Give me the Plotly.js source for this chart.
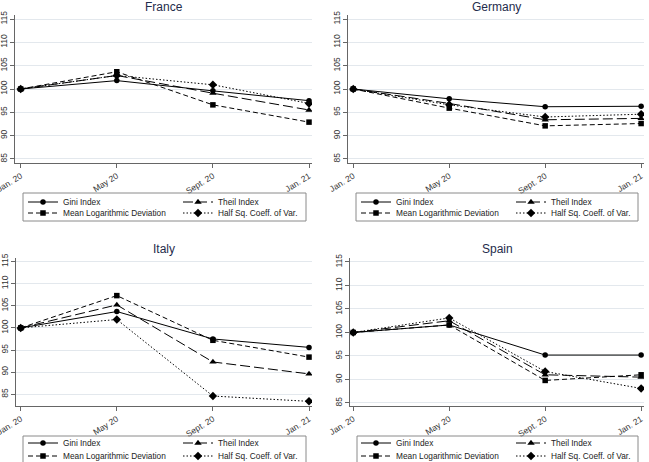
<!DOCTYPE html>
<html>
<head>
<meta charset="utf-8">
<script src="https://cdn.plot.ly/plotly-3.0.1.min.js"></script>
<style>html,body{margin:0;padding:0;background:#fff;}#chart{width:649px;height:462px;}</style>
</head>
<body>
<div id="chart"></div>
<script>
// ---- data ----
const months = ['Jan. 20', 'May 20', 'Sept. 20', 'Jan. 21'];
const countries = ['France', 'Germany', 'Italy', 'Spain'];
const seriesNames = ['Gini Index', 'Theil Index', 'Mean Logarithmic Deviation', 'Half Sq. Coeff. of Var.'];
const yTicks = [85, 90, 95, 100, 105, 110, 115];

const franceGini  = [100, 101.8, 99.6, 97.5];
const franceTheil = [100, 102.9, 99.1, 95.5];
const franceMLD   = [100, 103.7, 96.6, 92.9];
const franceHSCV  = [100, 102.9, 100.9, 96.9];

const germanyGini  = [100, 97.9, 96.2, 96.3];
const germanyTheil = [100, 96.9, 93.4, 93.7];
const germanyMLD   = [100, 95.9, 92.1, 92.6];
const germanyHSCV  = [100, 96.6, 94.0, 94.6];

const italyGini  = [100, 103.7, 97.5, 95.6];
const italyTheil = [100, 105.2, 92.3, 89.6];
const italyMLD   = [100, 107.3, 97.2, 93.4];
const italyHSCV  = [100, 101.9, 84.6, 83.4];

const spainGini  = [100, 101.6, 95.2, 95.2];
const spainTheil = [100, 102.5, 91.0, 90.5];
const spainMLD   = [100, 101.6, 89.8, 91.0];
const spainHSCV  = [100, 103.1, 91.7, 88.1];

const panelData = [
  [franceGini, franceTheil, franceMLD, franceHSCV],
  [germanyGini, germanyTheil, germanyMLD, germanyHSCV],
  [italyGini, italyTheil, italyMLD, italyHSCV],
  [spainGini, spainTheil, spainMLD, spainHSCV]
];

// ---- styling / layout (pixels) ----
const W = 649, H = 462;
const FONT = 'Liberation Sans, Arial, sans-serif';
const styles = [
  {dash: 'solid', symbol: 'circle', size: 5.5},
  {dash: '10px,4px', symbol: 'triangle-up', size: 6.5},
  {dash: '5px,3px', symbol: 'square', size: 5.5},
  {dash: '1.5px,2px', symbol: 'diamond', size: 6.5}
];
const panels = [
  {xd: [15, 312], yd: [15, 163], xr: [-0.059, 3.031], yr: [84.14, 115.86], legX: 23, rows: [202, 213], box: [23, 193, 306, 221]},
  {xd: [348, 644], yd: [15, 163], xr: [-0.055, 3.03], yr: [84.14, 115.86], legX: 356, rows: [202, 213], box: [356, 193, 638, 221]},
  {xd: [16, 312], yd: [258, 406], xr: [-0.049, 3.031], yr: [82.35, 115.8], legX: 23, rows: [443, 456], box: [23, 436, 306, 468]},
  {xd: [350, 644], yd: [258, 406], xr: [-0.034, 3.03], yr: [84.36, 115.85], legX: 356, rows: [443, 456], box: [357, 436, 638, 468]}
];
const titleY = [7, 7, 249, 249];

const px = v => v / W;
const py = v => 1 - v / H;

const traces = [];
const layout = {
  width: W, height: H,
  margin: {l: 0, r: 0, t: 0, b: 0, autoexpand: false},
  paper_bgcolor: '#ffffff', plot_bgcolor: '#ffffff',
  font: {family: FONT, size: 9, color: '#222'},
  annotations: [], shapes: []
};

panels.forEach((p, i) => {
  const n = i + 1;
  const xa = 'xaxis' + (n === 1 ? '' : n), ya = 'yaxis' + (n === 1 ? '' : n);
  const xref = 'x' + (n === 1 ? '' : n), yref = 'y' + (n === 1 ? '' : n);
  layout[xa] = {
    domain: [px(p.xd[0]), px(p.xd[1])], anchor: yref,
    type: 'category', range: p.xr, fixedrange: true,
    showgrid: false, zeroline: false,
    showline: true, linecolor: '#666', linewidth: 1,
    ticks: 'outside', ticklen: 4, tickcolor: '#666',
    tickangle: -32, tickfont: {size: 8.5, color: '#333', family: FONT}
  };
  layout[ya] = {
    domain: [py(p.yd[1]), py(p.yd[0])], anchor: xref,
    range: p.yr, tickvals: yTicks, fixedrange: true,
    showgrid: true, gridcolor: '#e3e8ed', gridwidth: 1, zeroline: false,
    showline: true, linecolor: '#666', linewidth: 1,
    ticks: 'outside', ticklen: 4, tickcolor: '#666',
    tickangle: -90, tickfont: {size: 8.5, color: '#333', family: FONT}
  };
  // title
  layout.annotations.push({
    text: countries[i], xref: 'paper', yref: 'paper',
    x: px((p.xd[0] + p.xd[1]) / 2), y: py(titleY[i]),
    xanchor: 'center', yanchor: 'middle', showarrow: false,
    font: {size: 12, color: '#1f2c4c', family: FONT}
  });
  // legend box
  layout.shapes.push({
    type: 'rect', xref: 'paper', yref: 'paper',
    x0: px(p.box[0]), x1: px(p.box[2]), y0: py(p.box[3]), y1: py(p.box[1]),
    line: {color: '#8a8a8a', width: 1}, fillcolor: 'rgba(0,0,0,0)'
  });
  // two legend rows
  p.rows.forEach((ry, r) => {
    const li = i * 2 + r + 1;
    const lk = li === 1 ? 'legend' : 'legend' + li;
    layout[lk] = {
      x: px(p.legX), xanchor: 'left', y: py(ry), yanchor: 'middle',
      xref: 'paper', yref: 'paper',
      orientation: 'h', entrywidth: 110, entrywidthmode: 'pixels',
      bgcolor: 'rgba(0,0,0,0)', borderwidth: 0, itemwidth: 30,
      font: {size: 8.3, color: '#222', family: FONT},
      itemclick: false, itemdoubleclick: false
    };
  });
  panelData[i].forEach((vals, s) => {
    const st = styles[s];
    const row = s < 2 ? 0 : 1;
    const li = i * 2 + row + 1;
    traces.push({
      type: 'scatter', mode: 'lines+markers',
      x: months, y: vals, xaxis: xref, yaxis: yref,
      name: seriesNames[s],
      legend: li === 1 ? 'legend' : 'legend' + li,
      showlegend: true,
      line: {color: '#000', width: 1, dash: st.dash},
      marker: {color: '#000', symbol: st.symbol, size: st.size},
      hoverinfo: 'skip'
    });
  });
});

Plotly.newPlot('chart', traces, layout, {displayModeBar: false, staticPlot: true});
</script>
</body>
</html>
